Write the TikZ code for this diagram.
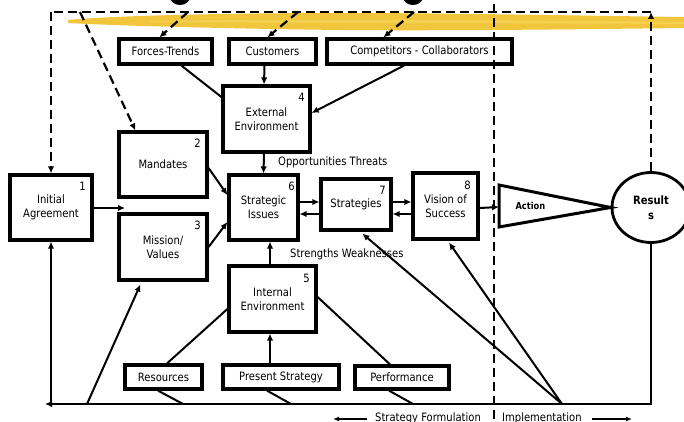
\documentclass[tikz,border=0pt]{standalone}
\usepackage{fontspec}
\setmainfont{DejaVu Sans}[FakeStretch=0.87]
\usetikzlibrary{arrows.meta,calc,shapes.geometric}
\definecolor{brush}{RGB}{240,192,40}
\definecolor{brushlight}{RGB}{248,214,90}

\begin{document}
\begin{tikzpicture}[x=1pt,y=-1pt,
  every node/.style={font=\fontsize{11.5}{14}\selectfont},
  box/.style={draw,line width=3.2pt,inner sep=0pt,align=center},
  tagbox/.style={draw,line width=3.2pt,inner sep=0pt,minimum height=25pt},
  num/.style={inner sep=0pt},
  conn/.style={line width=2pt},
  arr/.style={conn,-{Latex[length=7pt,width=6.5pt]}},
  dashline/.style={line width=2.2pt,dash pattern=on 9pt off 5pt},
  darr/.style={dashline,-{Latex[length=7pt,width=6.5pt]}},
]
\clip (0,0) rectangle (684,422);
\fill[white] (0,0) rectangle (684,422);

% golden brush stroke under the heading
\fill[brush,opacity=0.9]
  (68,20) .. controls (120,15) and (250,13) .. (342,13)
  .. controls (450,13) and (600,16) .. (684,17) -- (684,28)
  .. controls (600,29) and (450,31) .. (342,30)
  .. controls (250,29) and (120,26) .. (68,23) -- cycle;
\fill[brushlight,opacity=0.7]
  (150,21) .. controls (300,19) and (500,20) .. (684,22) -- (684,24)
  .. controls (500,23) and (300,23) .. (150,22) -- cycle;

% descenders of the heading letters
\fill (180,-3) ellipse (10 and 8);
\fill (413,-3) ellipse (10 and 8);

% numbered process boxes
\node[box,minimum width=82pt,minimum height=65pt] (init) at (51,207.5) {Initial\\Agreement};
\node[box,minimum width=88pt,minimum height=65pt] (mand) at (163,164.5) {\raisebox{-8pt}{Mandates}};
\node[box,minimum width=88pt,minimum height=66pt] (miss) at (163,247) {Mission/\\Values};
\node[box,minimum width=87pt,minimum height=66pt] (ext) at (266.5,119) {External\\Environment};
\node[box,minimum width=69pt,minimum height=65pt] (issues) at (263.5,207.5) {Strategic\\Issues};
\node[box,minimum width=70pt,minimum height=51pt] (strat) at (356,204.5) {Strategies};
\node[box,minimum width=65pt,minimum height=66pt] (vision) at (445.5,206) {Vision of\\Success};
\node[box,minimum width=87pt,minimum height=66pt] (intern) at (272.5,299) {Internal\\Environment};

\node[num] (n1) at ($(init.north east)+(-11,13)$) {1};
\node[num] (n2) at ($(mand.north east)+(-11,13)$) {2};
\node[num] (n3) at ($(miss.north east)+(-11,13)$) {3};
\node[num] (n4) at ($(ext.north east)+(-10,13)$) {4};
\node[num] (n5) at ($(intern.north east)+(-11,14)$) {5};
\node[num] (n6) at ($(issues.north east)+(-8,13)$) {6};
\node[num] (n7) at ($(strat.north east)+(-10,13)$) {7};
\node[num] (n8) at ($(vision.north east)+(-12,14)$) {8};

% input boxes
\node[tagbox,minimum width=93pt] (forces) at (165.5,51.5) {Forces-Trends};
\node[tagbox,minimum width=87pt] (cust) at (272.5,51.5) {Customers};
\node[tagbox,minimum width=185pt] (comp) at (419.5,51.5) {Competitors - Collaborators};
\node[tagbox,minimum width=77pt,minimum height=24pt] (resrc) at (163.5,377) {Resources};
\node[tagbox,minimum width=116pt,minimum height=24pt] (pres) at (281,377) {Present Strategy};
\node[tagbox,minimum width=94pt,minimum height=23pt] (perf) at (402,377.5) {Performance};

% action wedge and results
\node[ellipse,draw,line width=2.8pt,minimum width=78pt,minimum height=70pt,inner sep=0pt,
      align=center,font=\fontsize{11.5}{15}\selectfont\bfseries] (res) at (651,207.5) {Result\\s};
\coordinate (actL) at (499,207);
\draw[line width=3pt,line join=miter] (499,185) -- (res.west) -- (499,227) -- cycle;
\node[anchor=west,font=\fontsize{9.5}{11}\selectfont\bfseries] (act) at (512,206) {Action};

% text labels
\node[anchor=west,inner sep=0pt] (opp) at (278,162) {Opportunities Threats};
\node[anchor=west,inner sep=0pt] (sw) at (290,254) {Strengths Weaknesses};
\node[anchor=base west,inner sep=0pt] (form) at (375,421.5) {Strategy Formulation};
\node[anchor=base west,inner sep=0pt] (impl) at (502,421.5) {Implementation};

% dashed feedback loop along the top
\coordinate (tl) at (51,12);
\coordinate (tr) at (651,12);
\draw[darr] (res.north) -- (tr);
\draw[dashline] (tr) -- (tl);
\draw[darr] (tl) -- (init.north);
\draw[darr] (80,12) -- ($(mand.north west)+(18,0)$);
\draw[darr] (188,12) -- ($(forces.north west)+(42,0)$);
\draw[darr] (298,12) -- ($(cust.north west)+(40,0)$);
\draw[darr] (414,12) -- ($(comp.north west)+(58,0)$);

% boundary between formulation and implementation
\draw[dashline] (494,4) -- (494,425);

% external inputs
\draw[conn] ($(forces.south west)+(64,0)$) -- ($(ext.west)+(0,-22)$);
\draw[arr] ($(cust.south)+(-8,0)$) -- ($(ext.north)+(-2.5,0)$);
\draw[arr] ($(comp.south)+(-15.5,0)$) -- ($(ext.east)+(0,-6)$);

% into strategic issues
\draw[arr] ($(ext.south)+(-2.5,0)$) -- (issues.north);
\draw[arr] ($(mand.east)+(0,3.5)$) -- ($(issues.west)+(0,-12.5)$);
\draw[arr] (miss.east) -- ($(issues.west)+(0,14.5)$);
\draw[arr] ($(intern.north)+(-2.5,0)$) -- ($(issues.south)+(6.5,0)$);

% issues <-> strategies <-> vision
\draw[arr] ($(issues.east)+(0,-5.5)$) -- ($(strat.west)+(0,-2.5)$);
\draw[arr] ($(strat.west)+(0,9.5)$) -- ($(issues.east)+(0,6.5)$);
\draw[arr] ($(strat.east)+(0,-2.5)$) -- ($(vision.west)+(0,-4)$);
\draw[arr] ($(vision.west)+(0,8)$) -- ($(strat.east)+(0,9.5)$);
\draw[arr] ($(vision.east)+(0,2)$) -- (actL);

% initial agreement
\coordinate (iaEnd) at (125,208);
\draw[arr] (init.east |- iaEnd) -- (iaEnd);

% internal inputs
\draw[conn] ($(resrc.north)+(3.5,0)$) -- ($(intern.west)+(0,10)$);
\draw[arr] ($(pres.north)+(-11,0)$) -- ($(intern.south)+(-2.5,0)$);
\draw[conn] ($(perf.north)+(-12,0)$) -- ($(intern.east)+(0,-2)$);

% feedback loop along the bottom
\coordinate (bl) at (45,404);
\coordinate (lb) at (51,404);
\draw[arr] (res.south) |- (bl);
\draw[arr] (lb) -- (init.south);
\draw[arr] (87,404) -- ($(miss.south west)+(23,3)$);
\draw[conn] ($(resrc.south)+(-5.5,0)$) -- (183,404);
\draw[conn] ($(pres.south)+(-14,0)$) -- (291,404);
\draw[conn] ($(perf.south)+(-13,0)$) -- (413,404);
\coordinate (impl0) at (562,404);
\draw[arr] (impl0) -- ($(strat.south west)+(43,2)$);
\draw[arr] (impl0) -- ($(vision.south)+(3.5,2)$);

% phase arrows
\coordinate (fa) at (367,419);
\coordinate (fb) at (333,419);
\coordinate (ia) at (592,419);
\coordinate (ib) at (632,419);
\draw[line width=1.6pt,-{Latex[length=6pt,width=5pt]}] (fa) -- (fb);
\draw[line width=1.6pt,-{Latex[length=6pt,width=5pt]}] (ia) -- (ib);
\end{tikzpicture}
\end{document}
